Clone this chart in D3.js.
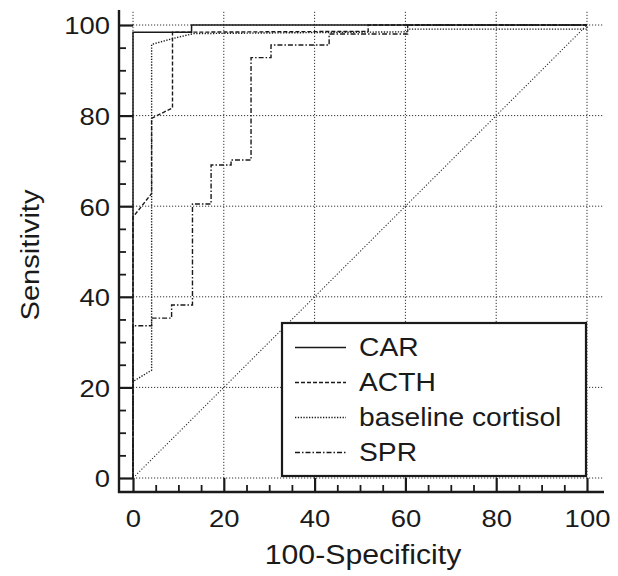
<!DOCTYPE html>
<html>
<head>
<meta charset="utf-8">
<script src="https://cdn.jsdelivr.net/npm/d3@7"></script>
<style>
  body { margin: 0; background: #fff; }
  svg { display: block; }
  text { font-family: "Liberation Sans", Arial, sans-serif; fill: #1a1a1a; }
</style>
</head>
<body>
<svg id="chart" width="618" height="576"></svg>
<script>
// ---- data ----
const xTicks = [0, 20, 40, 60, 80, 100];
const yTicks = [0, 20, 40, 60, 80, 100];
const minorTicks = [5, 10, 15, 25, 30, 35, 45, 50, 55, 65, 70, 75, 85, 90, 95];
const seriesNames = ["CAR", "ACTH", "baseline cortisol", "SPR"];
const carPts = [[0,0],[0,98.4],[12.9,98.4],[12.9,100],[100,100]];
const acthPts = [[0,0],[0,57.6],[4.1,62.8],[4.1,79.4],[8.7,81.7],[8.7,98.4],[51.8,98.6],[51.8,100],[100,100]];
const cortisolPts = [[0,0],[0,21.3],[4.1,23.8],[4.1,95.7],[8.7,97.0],[13.3,98.1],[60.5,98.5],[60.5,99.1],[100,99.1],[100,100]];
const sprPts = [[0,0],[0,33.6],[4.1,33.6],[4.1,35.3],[8.5,35.3],[8.5,38.2],[13.1,38.2],[13.1,60.5],[17.2,60.5],[17.2,69.1],[21.6,69.1],[21.6,70.2],[26.0,70.2],[26.0,92.8],[30.4,92.8],[30.4,95.6],[43.2,95.6],[43.2,98.0],[60.5,98.0],[60.5,100],[100,100]];
const diagPts = [[0,0],[100,100]];
const xLabel = "100-Specificity";
const yLabel = "Sensitivity";

// ---- layout ----
const svg = d3.select("#chart");
const x = d3.scaleLinear().domain([0, 100]).range([133, 587]);
const y = d3.scaleLinear().domain([0, 100]).range([478, 25]);
const xMax = 103.5, yMax = 103;
const spineX = 119, spineY = 492;
const sx = 1.12; // horizontal text stretch
const ink = "#1a1a1a";

// grid
const grid = svg.append("g").attr("stroke", "#333").attr("stroke-width", 1)
  .attr("stroke-dasharray", "1.2,1.8").attr("fill", "none");
yTicks.forEach(v => grid.append("line")
  .attr("x1", x(0)).attr("x2", x(xMax)).attr("y1", y(v)).attr("y2", y(v)));
xTicks.forEach(v => grid.append("line")
  .attr("x1", x(v)).attr("x2", x(v)).attr("y1", y(0)).attr("y2", y(yMax)));

// diagonal reference
const line = d3.line().x(d => x(d[0])).y(d => y(d[1]));
svg.append("path").datum(diagPts).attr("d", line)
  .attr("fill", "none").attr("stroke", "#333").attr("stroke-width", 1.1)
  .attr("stroke-dasharray", "1.2,1.8");

// curves
const styles = [
  { pts: carPts, dash: null, w: 1.5 },
  { pts: acthPts, dash: "4,2", w: 1.4 },
  { pts: cortisolPts, dash: "1.3,1.5", w: 1.4 },
  { pts: sprPts, dash: "5,2,1.5,2", w: 1.4 }
];
styles.forEach(s => {
  svg.append("path").datum(s.pts).attr("d", line)
    .attr("fill", "none").attr("stroke", ink).attr("stroke-width", s.w)
    .attr("stroke-dasharray", s.dash);
});

// axes: major ticks
function stretchText(sel) {
  sel.selectAll(".tick text").each(function() {
    const t = d3.select(this);
    const tx = +t.attr("x") || 0, ty = +t.attr("y") || 0;
    t.attr("x", 0).attr("y", 0)
     .attr("transform", `translate(${tx},${ty}) scale(${sx},1)`);
  });
}
const yAxis = svg.append("g").attr("transform", `translate(${x(0)},0)`)
  .call(d3.axisLeft(y).tickValues(yTicks).tickSize(14).tickPadding(9).tickSizeOuter(0));
const xAxis = svg.append("g").attr("transform", `translate(0,${y(0)})`)
  .call(d3.axisBottom(x).tickValues(xTicks).tickSize(14).tickPadding(18).tickSizeOuter(0));
[yAxis, xAxis].forEach(a => {
  a.select(".domain").remove();
  a.selectAll(".tick line").attr("stroke", ink).attr("stroke-width", 2.2);
  a.selectAll(".tick text").attr("font-size", 24.5).attr("fill", ink)
    .style("font-family", '"Liberation Sans", Arial, sans-serif');
  stretchText(a);
});
yAxis.selectAll(".tick text").attr("dy", "0.36em");
// minor ticks
const yMinor = svg.append("g").attr("transform", `translate(${x(0)},0)`)
  .call(d3.axisLeft(y).tickValues(minorTicks).tickSize(7).tickFormat("").tickSizeOuter(0));
const xMinor = svg.append("g").attr("transform", `translate(0,${y(0)})`)
  .call(d3.axisBottom(x).tickValues(minorTicks).tickSize(7).tickFormat("").tickSizeOuter(0));
[yMinor, xMinor].forEach(a => {
  a.select(".domain").remove();
  a.selectAll(".tick line").attr("stroke", ink).attr("stroke-width", 1.8);
});
yMinor.selectAll(".tick line").attr("x1", -14).attr("x2", -7);
xMinor.selectAll(".tick line").attr("y1", 7).attr("y2", 14);

// spines
svg.append("line").attr("x1", spineX).attr("x2", spineX).attr("y1", 10).attr("y2", spineY + 1)
  .attr("stroke", ink).attr("stroke-width", 2.4);
svg.append("line").attr("x1", spineX - 1).attr("x2", 604).attr("y1", spineY).attr("y2", spineY)
  .attr("stroke", ink).attr("stroke-width", 2.4);

// axis titles
svg.append("text").attr("transform", `translate(363,564) scale(${sx},1)`)
  .attr("text-anchor", "middle").attr("font-size", 27).text(xLabel);
svg.append("text").attr("transform", `translate(39,255) rotate(-90) scale(${sx},1)`)
  .attr("text-anchor", "middle").attr("font-size", 26).text(yLabel);

// legend
const lg = svg.append("g");
lg.append("rect").attr("x", 282).attr("y", 323).attr("width", 304).attr("height", 153)
  .attr("fill", "#fff").attr("stroke", ink).attr("stroke-width", 2.2);
seriesNames.forEach((name, i) => {
  const base = 356 + i * 35;
  lg.append("line").attr("x1", 295).attr("x2", 346).attr("y1", base - 8.5).attr("y2", base - 8.5)
    .attr("stroke", ink).attr("stroke-width", 1.3).attr("stroke-dasharray", styles[i].dash);
  lg.append("text").attr("transform", `translate(359,${base}) scale(${sx},1)`)
    .attr("font-size", 25.2).text(name);
});
</script>
</body>
</html>
